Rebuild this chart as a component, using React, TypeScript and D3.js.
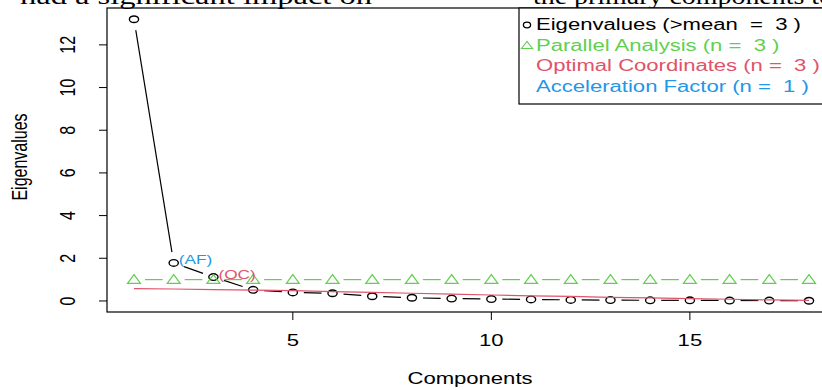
import * as d3 from "d3";

// components 1..18
const components = d3.range(1, 19);
const eigenvalues = [13.2, 1.78, 1.12, 0.52, 0.4, 0.36, 0.22, 0.15, 0.11, 0.09, 0.07, 0.05, 0.04, 0.03, 0.03, 0.02, 0.02, 0.01];
const parallel = [1.0, 1.0, 1.0, 1.0, 1.0, 1.0, 1.0, 1.0, 1.0, 1.0, 1.0, 1.0, 1.0, 1.0, 1.0, 1.0, 1.0, 1.0];
const optimal = [0.58, 0.56, 0.53, 0.51, 0.48, 0.44, 0.4, 0.36, 0.32, 0.28, 0.24, 0.21, 0.17, 0.14, 0.11, 0.08, 0.05, 0.03];
const xTicks = [5, 10, 15];
const yTicks = [0, 2, 4, 6, 8, 10, 12];
const legendItems = [
  { label: "Eigenvalues (>mean  =  3 )", color: "#000000", shape: "circle" },
  { label: "Parallel Analysis (n =  3 )", color: "#61D04F", shape: "triangle" },
  { label: "Optimal Coordinates (n =  3 )", color: "#DF536B", shape: "none" },
  { label: "Acceleration Factor (n =  1 )", color: "#2297E6", shape: "none" },
];

const W = 822;
const H = 390;
const PLOT = { left: 107, right: 836, top: 8, bottom: 312 };
const SX = 1.38; // horizontal stretch of the picture
const FONT = "Liberation Sans, Arial, sans-serif";
const SERIF = "Liberation Serif, Times New Roman, serif";
const GAP = 11;

function gappedSegments(pts: [number, number][]) {
  const segs: [number, number, number, number][] = [];
  for (let i = 0; i < pts.length - 1; i++) {
    const [x1, y1] = pts[i];
    const [x2, y2] = pts[i + 1];
    const d = Math.hypot(x2 - x1, y2 - y1);
    if (d <= 2 * GAP) continue;
    const ux = (x2 - x1) / d;
    const uy = (y2 - y1) / d;
    segs.push([x1 + ux * GAP, y1 + uy * GAP, x2 - ux * GAP, y2 - uy * GAP]);
  }
  return segs;
}

function Text({ x, y, children, size = 16, fill = "#000", anchor = "start", rotate = 0, family = FONT }: any) {
  return (
    <text
      transform={`translate(${x},${y}) scale(${SX},1) rotate(${rotate})`}
      fontFamily={family}
      fontSize={size}
      fill={fill}
      textAnchor={anchor}
      dominantBaseline="central"
      style={{ whiteSpace: "pre" }}
    >
      {children}
    </text>
  );
}

function triangle(cx: number, cy: number) {
  return `M${cx - 6.5},${cy + 3.8}L${cx + 6.5},${cy + 3.8}L${cx},${cy - 5}Z`;
}

export default function App() {
  const xExt = d3.extent(components) as [number, number];
  const xPad = (xExt[1] - xExt[0]) * 0.04;
  const x = d3.scaleLinear().domain([xExt[0] - xPad, xExt[1] + xPad]).range([PLOT.left, PLOT.right]);
  const yExt = d3.extent(eigenvalues) as [number, number];
  const yPad = (yExt[1] - yExt[0]) * 0.04;
  const y = d3.scaleLinear().domain([yExt[0] - yPad, yExt[1] + yPad]).range([PLOT.bottom, PLOT.top]);

  const eigPts = components.map((c, i) => [x(c), y(eigenvalues[i])] as [number, number]);
  const parPts = components.map((c, i) => [x(c), y(parallel[i])] as [number, number]);
  const ocLine = d3.line<number>().x((_, i) => x(components[i])).y((d) => y(d))(optimal) || "";

  return (
    <svg width={W} height={H} style={{ position: "absolute", left: 0, top: 0, background: "#fff" }}>
      <rect width={W} height={H} fill="#fff" />

      {/* cropped document text at the top */}
      <text x={20} y={3.5} fontFamily={SERIF} fontSize={24} textLength={352} lengthAdjust="spacingAndGlyphs">
        had a significant impact on
      </text>
      <text x={533} y={3.5} fontFamily={SERIF} fontSize={24} textLength={300} lengthAdjust="spacingAndGlyphs">
        the primary components to
      </text>

      {/* plot box */}
      <rect x={PLOT.left} y={PLOT.top} width={PLOT.right - PLOT.left} height={PLOT.bottom - PLOT.top} fill="none" stroke="#000" strokeWidth={1.2} />

      {/* y axis */}
      {yTicks.map((t) => (
        <g key={t}>
          <line x1={PLOT.left - 8} x2={PLOT.left} y1={y(t)} y2={y(t)} stroke="#000" strokeWidth={1} />
          <Text x={68} y={y(t)} anchor="middle" rotate={-90}>{t}</Text>
        </g>
      ))}
      <Text x={20} y={157} anchor="middle" rotate={-90}>Eigenvalues</Text>

      {/* x axis */}
      {xTicks.map((t) => (
        <g key={t}>
          <line x1={x(t)} x2={x(t)} y1={PLOT.bottom} y2={PLOT.bottom + 8} stroke="#000" strokeWidth={1} />
          <Text x={x(t)} y={341} anchor="middle">{t}</Text>
        </g>
      ))}
      <Text x={470} y={379} anchor="middle">Components</Text>

      {/* eigenvalues, type b */}
      {gappedSegments(eigPts).map((s, i) => (
        <line key={`e${i}`} x1={s[0]} y1={s[1]} x2={s[2]} y2={s[3]} stroke="#000" strokeWidth={1.2} />
      ))}
      {eigPts.map((p, i) => (
        <ellipse key={`c${i}`} cx={p[0]} cy={p[1]} rx={4.6} ry={3.3} fill="none" stroke="#000" strokeWidth={1.4} />
      ))}

      {/* parallel analysis, type b */}
      {gappedSegments(parPts).map((s, i) => (
        <line key={`p${i}`} x1={s[0]} y1={s[1]} x2={s[2]} y2={s[3]} stroke="#61D04F" strokeWidth={1.2} />
      ))}
      {parPts.map((p, i) => (
        <path key={`t${i}`} d={triangle(p[0], p[1])} fill="none" stroke="#61D04F" strokeWidth={1.2} />
      ))}

      {/* optimal coordinates */}
      <path d={ocLine} fill="none" stroke="#DF536B" strokeWidth={1.2} />

      {/* annotations */}
      <Text x={x(2) + 5} y={y(eigenvalues[1]) - 4} size={12.5} fill="#2297E6">(AF)</Text>
      <Text x={x(3) + 5} y={y(eigenvalues[2]) - 2.5} size={12.5} fill="#DF536B">(OC)</Text>

      {/* legend */}
      <rect x={519} y={PLOT.top} width={400} height={104 - PLOT.top} fill="#fff" stroke="#000" strokeWidth={1.2} />
      {legendItems.map((it, i) => {
        const cy = 25 + i * 20.5;
        return (
          <g key={it.label}>
            {it.shape === "circle" && <ellipse cx={527} cy={cy} rx={3.6} ry={2.8} fill="none" stroke={it.color} strokeWidth={1.3} />}
            {it.shape === "triangle" && <path d={`M${521.5},${cy + 3}L${532.5},${cy + 3}L${527},${cy - 4}Z`} fill="none" stroke={it.color} strokeWidth={1.1} />}
            <Text x={536} y={cy} fill={it.color}>{it.label}</Text>
          </g>
        );
      })}
    </svg>
  );
}
